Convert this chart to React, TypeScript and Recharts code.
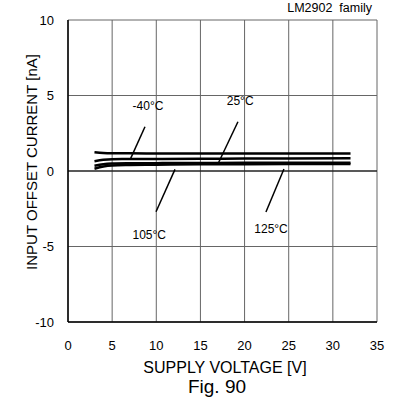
import React from "react";
import {
  LineChart,
  Line,
  XAxis,
  YAxis,
  CartesianGrid,
  ReferenceLine,
  ReferenceDot,
} from "recharts";

// Supply voltage sweep [V]
const volts = [3, 4, 5, 7, 10, 15, 20, 25, 32];

// Input offset current [nA] per temperature
const iosM40 = [1.25, 1.2, 1.18, 1.17, 1.16, 1.16, 1.16, 1.16, 1.16];
const ios25 = [0.65, 0.74, 0.78, 0.79, 0.8, 0.81, 0.82, 0.83, 0.84];
const ios105 = [0.35, 0.45, 0.49, 0.51, 0.52, 0.53, 0.54, 0.54, 0.55];
const ios125 = [0.15, 0.3, 0.37, 0.4, 0.42, 0.44, 0.45, 0.46, 0.47];

const xTicks = [0, 5, 10, 15, 20, 25, 30, 35];
const yTicks = [-10, -5, 0, 5, 10];

// temperature labels and their leader lines (data coords)
const tempLabels = ["-40°C", "25°C", "105°C", "125°C"];
const labelX = [9.06, 19.5, 9.2, 23.0];
const labelY = [4.3, 4.64, -4.24, -3.84];
const leaderFrom = [
  [8.72, 2.93],
  [19.25, 3.26],
  [9.97, -2.7],
  [22.42, -2.72],
];
const leaderTo = [
  [7.1, 0.84],
  [17.02, 0.51],
  [12.12, 0.11],
  [24.46, 0.13],
];

const series = [iosM40, ios25, ios105, ios125];
const toRows = (vals: number[]) => volts.map((v, i) => ({ v, ios: vals[i] }));

const FONT = "'Liberation Sans', Arial, sans-serif";

export default function App() {
  return (
    <div
      style={{
        position: "absolute",
        left: 0,
        top: 0,
        width: 396,
        height: 400,
        background: "#fff",
        fontFamily: FONT,
      }}
    >
      <LineChart
        width={396}
        height={400}
        margin={{ top: 20, right: 19, left: 0, bottom: 0 }}
        style={{ fontFamily: FONT }}
      >
        <CartesianGrid stroke="#666" strokeWidth={1} />
        <XAxis
          dataKey="v"
          type="number"
          domain={[0, 35]}
          ticks={xTicks}
          allowDuplicatedCategory={false}
          height={78}
          tickLine={false}
          axisLine={{ stroke: "#000", strokeWidth: 1.5 }}
          tickMargin={13}
          tick={{ fontSize: 13, fill: "#000" }}
        />
        <YAxis
          type="number"
          domain={[-10, 10]}
          ticks={yTicks}
          width={68}
          tickLine={false}
          axisLine={{ stroke: "#000", strokeWidth: 1.5 }}
          tickMargin={8}
          tick={{ fontSize: 13, fill: "#000" }}
        />
        <ReferenceLine y={0} stroke="#000" strokeWidth={1.2} />
        {series.map((vals, i) => (
          <Line
            key={i}
            data={toRows(vals)}
            dataKey="ios"
            type="monotone"
            stroke="#000"
            strokeWidth={2.5}
            dot={false}
            isAnimationActive={false}
          />
        ))}
        {leaderFrom.map((p, i) => (
          <ReferenceLine
            key={"l" + i}
            segment={[
              { x: p[0], y: p[1] },
              { x: leaderTo[i][0], y: leaderTo[i][1] },
            ]}
            stroke="#000"
            strokeWidth={1.5}
          />
        ))}
        {tempLabels.map((t, i) => (
          <ReferenceDot
            key={"t" + i}
            x={labelX[i]}
            y={labelY[i]}
            r={0}
            fill="none"
            stroke="none"
            label={{ value: t, position: "center", fontSize: 12, fill: "#000" }}
          />
        ))}
      </LineChart>
      <div
        style={{
          position: "absolute",
          right: 24,
          top: 1,
          fontSize: 12.5,
          whiteSpace: "pre",
        }}
      >
        {"LM2902  family"}
      </div>
      <div
        style={{
          position: "absolute",
          left: 31,
          top: 162,
          transform: "translate(-50%, -50%) rotate(-90deg)",
          fontSize: 15,
          whiteSpace: "nowrap",
        }}
      >
        INPUT OFFSET CURRENT [nA]
      </div>
      <div
        style={{
          position: "absolute",
          left: 225,
          top: 360,
          transform: "translateX(-50%)",
          fontSize: 16,
          lineHeight: 1,
          whiteSpace: "nowrap",
        }}
      >
        SUPPLY VOLTAGE [V]
      </div>
      <div
        style={{
          position: "absolute",
          left: 217,
          top: 377,
          transform: "translateX(-50%)",
          fontSize: 19,
          lineHeight: 1,
          whiteSpace: "nowrap",
        }}
      >
        Fig. 90
      </div>
    </div>
  );
}
